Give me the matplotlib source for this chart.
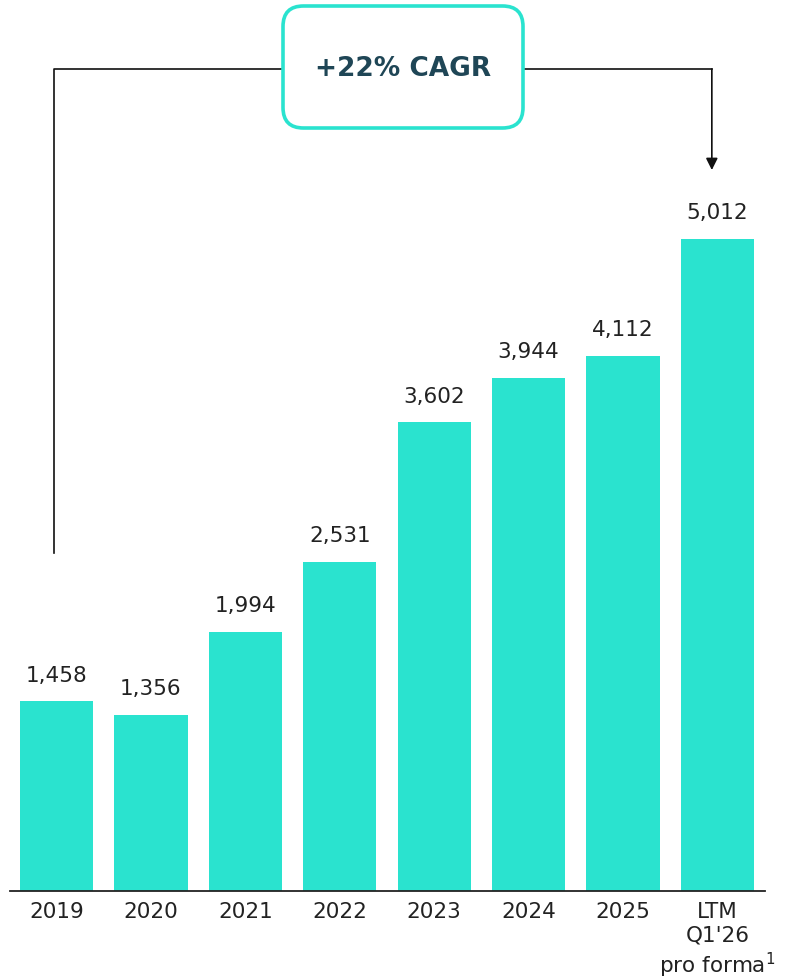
import matplotlib.pyplot as plt
from matplotlib.patches import FancyBboxPatch

plt.rcParams["font.family"] = ["DejaVu Sans"]

# data
categories = ["2019", "2020", "2021", "2022", "2023", "2024", "2025", "LTM\nQ1'26\npro forma$^1$"]
values = [1458, 1356, 1994, 2531, 3602, 3944, 4112, 5012]
cagr_label = "+22% CAGR"

bar_color = "#2ae3cf"
text_dark = "#1f4656"

fig = plt.figure(figsize=(7.87, 9.8), dpi=100)
ax = fig.add_axes([10 / 787, 1 - 891 / 980, 755 / 787, 891 / 980])

x = list(range(len(values)))
ax.bar(x, values, width=0.775, color=bar_color)
ax.set_xlim(-0.4924, 7.503)
ax.set_ylim(0, 6849)

for xi, v in zip(x, values):
    ax.text(xi, v + 120, f"{v:,}", ha="center", va="bottom", fontsize=15.5, color="#222222")

ax.set_xticks(x)
ax.set_xticklabels(categories, fontsize=15.5, color="#222222", va="top", linespacing=1.22)
ax.tick_params(axis="x", length=0, pad=8)
ax.set_yticks([])
for s in ["top", "right", "left"]:
    ax.spines[s].set_visible(False)
ax.spines["bottom"].set_linewidth(1.3)
ax.spines["bottom"].set_color("#222222")

# CAGR bracket
y_top = 6319
ax.plot([-0.026, -0.026, 2.4], [2598, y_top, y_top], color="#111111", lw=1.2, clip_on=False)
ax.plot([4.94, 6.94], [y_top, y_top], color="#111111", lw=1.2, clip_on=False)
ax.annotate("", xy=(6.94, 5542), xytext=(6.94, y_top),
            arrowprops=dict(arrowstyle="-|>,head_length=0.7,head_width=0.35", color="#111111",
                            lw=1.2, shrinkA=0, shrinkB=0),
            annotation_clip=False)

box = FancyBboxPatch((283 / 787, 1 - 128 / 980), 240 / 787, 122 / 980,
                     boxstyle="round,pad=0,rounding_size=0.026", mutation_aspect=787 / 980,
                     transform=fig.transFigure, facecolor="white", edgecolor=bar_color, lw=2.6)
fig.patches.append(box)
fig.text(403 / 787, 1 - 69 / 980, cagr_label, ha="center", va="center",
         fontsize=19, fontweight="bold", color=text_dark)

fig.savefig("out.png", dpi=100)
